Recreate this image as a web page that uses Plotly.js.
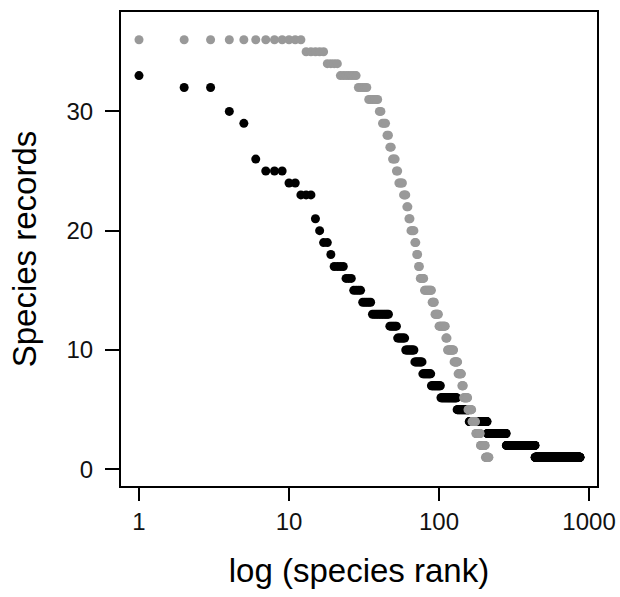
<!DOCTYPE html>
<html>
<head>
<meta charset="utf-8">
<script src="https://cdn.plot.ly/plotly-3.0.1.min.js"></script>
<style>html,body{margin:0;padding:0;background:#fff;}#chart{width:620px;height:597px;}</style>
</head>
<body>
<div id="chart"></div>
<script>
// Rank-abundance data, stored as runs:
// each record value and how many consecutive ranks share it (ranks ascend from 1).
const grayValues = [36,35,34,33,32,31,30,29,28,27,26,25,24,23,22,21,20,19,18,17,16,15,14,13,12,11,10,9,8,7,6,5,4,3,2,1];
const grayCounts = [12, 5, 4, 7, 5, 6, 2, 3, 2, 2, 3, 2, 4, 3, 2, 2, 4, 2, 2, 2, 5,10, 4, 6,11, 3,12,8,8,4,10,10,10,13,15,12];

const blackValues = [33,32,30,29,26,25,24,23,21,20,19,18,17,16,15,14,13,12,11,10,9,8,7,6,5,4,3,2,1];
const blackCounts = [ 1, 2, 1, 1, 1, 3, 2, 3, 1, 1, 2, 1, 4, 3, 4, 5,11, 6, 7, 9,9,11,14,29,27,51,71,156,434];

const xTickVals = [1, 10, 100, 1000];
const xTickText = ["1", "10", "100", "1000"];
const yTickVals = [0, 10, 20, 30];

function expandRuns(values, counts) {
  const ranks = [], recs = [];
  let r = 1;
  for (let i = 0; i < values.length; i++) {
    for (let k = 0; k < counts[i]; k++) { ranks.push(r++); recs.push(values[i]); }
  }
  return {ranks, recs};
}
const black = expandRuns(blackValues, blackCounts);
const gray = expandRuns(grayValues, grayCounts);

const traces = [
  {x: black.ranks, y: black.recs, type: 'scatter', mode: 'markers',
   marker: {color: '#000000', size: 9, line: {width: 0}}, hoverinfo: 'x+y', showlegend: false},
  {x: gray.ranks, y: gray.recs, type: 'scatter', mode: 'markers',
   marker: {color: '#999999', size: 9, line: {width: 0}}, hoverinfo: 'x+y', showlegend: false}
];

const font = {family: 'Liberation Sans, Arial, sans-serif', color: '#000'};
const layout = {
  width: 620, height: 597,
  margin: {l: 121, r: 23, t: 12, b: 111},
  paper_bgcolor: '#fff', plot_bgcolor: '#fff',
  font: font,
  showlegend: false,
  xaxis: {
    type: 'log', range: [-0.12, 3.053],
    tickvals: xTickVals, ticktext: xTickText,
    ticks: 'outside', ticklen: 13, tickwidth: 2, tickcolor: '#000',
    showline: true, linewidth: 2, linecolor: '#000', mirror: true,
    showgrid: false, zeroline: false,
    tickfont: {size: 24, family: font.family, color: '#111'},
    title: {text: 'log (species rank)', font: {size: 33, family: font.family, color: '#000'}, standoff: 25}
  },
  yaxis: {
    range: [-1.4, 38.33],
    tickvals: yTickVals,
    ticks: 'outside', ticklen: 14, tickwidth: 2, tickcolor: '#000',
    ticklabelstandoff: 7,
    showline: true, linewidth: 2, linecolor: '#000', mirror: true,
    showgrid: false, zeroline: false,
    tickfont: {size: 24, family: font.family, color: '#111'},
    title: {text: 'Species records', font: {size: 33, family: font.family, color: '#000'}, standoff: 20}
  }
};

Plotly.newPlot('chart', traces, layout, {displayModeBar: false, staticPlot: true});
</script>
</body>
</html>
